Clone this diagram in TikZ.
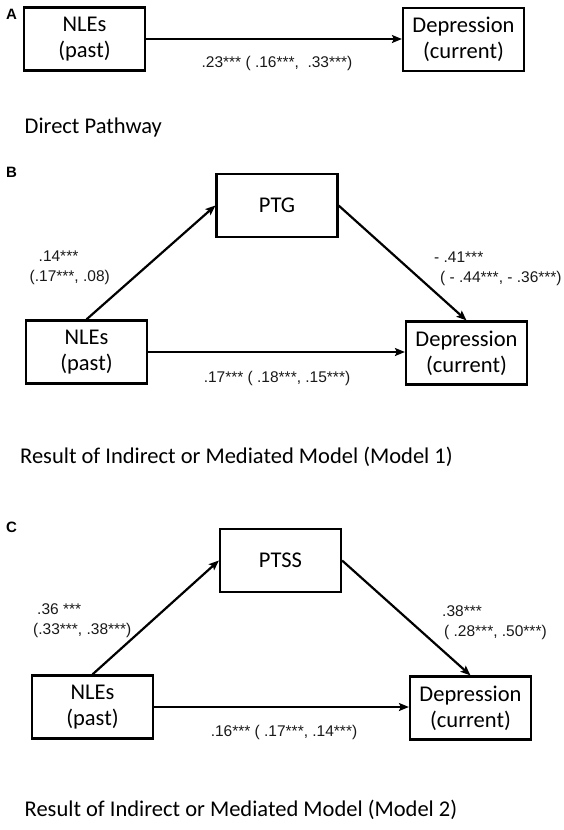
\documentclass[tikz,border=0pt]{standalone}
\usepackage{fontspec}
\setmainfont{Carlito}
\newfontfamily\lblfont{Liberation Sans}
\usetikzlibrary{arrows.meta}
\begin{document}
\begin{tikzpicture}[x=1pt,y=-1pt,
  box/.style={draw, line width=2.2pt, minimum width=121pt, minimum height=63pt, inner sep=0pt, align=center, font=\fontsize{22.5}{26}\selectfont},
  conn/.style={line width=2.2pt, -{Stealth[length=10pt,width=8pt,inset=2pt]}},
  coef/.style={font=\lblfont\fontsize{15.5}{20}\selectfont, text=black!90, inner sep=0pt},
  coefl/.style={coef, align=left, anchor=west},
  captext/.style={font=\fontsize{22.5}{27}\selectfont, anchor=west, inner sep=0pt},
  panel/.style={font=\lblfont\bfseries\fontsize{15}{17}\selectfont, inner sep=0pt}]
\useasboundingbox[fill=white] (0,0) rectangle (563,830);

% Panel A
\node[panel] (la) at (11.5,14) {A};
\node[box] (nA) at (84.5,39) {NLEs\\(past)};
\node[box] (dA) at (463.5,39.5) {Depression\\(current)};
\draw[conn] (nA.east) -- (nA.east -| dA.west);
\node[coef] (cA) at (277,63) {.23*** ( .16***, \ .33***)};
\node[captext] (capA) at (24.5,127) {Direct Pathway};

% Panel B
\node[panel] (lb) at (11.5,172) {B};
\node[box] (pB) at (277,205.5) {PTG};
\node[box] (nB) at (86.5,352) {NLEs\\(past)};
\node[box] (dB) at (466.5,353) {Depression\\(current)};
\draw[conn] (nB.north) -- (pB.west);
\draw[conn] (pB.east) -- (dB.north);
\draw[conn] (nB.east) -- (nB.east -| dB.west);
\node[coefl] (c1B) at (29.5,268) {\hspace*{9pt}.14***\\(.17***, .08)};
\node[coefl] (c2B) at (434,268.5) {- .41***\\\hspace*{6pt}( - .44***, - .36***)};
\node[coef] (c3B) at (277,378) {.17*** ( .18***, .15***)};
\node[captext] (capB) at (20,457) {Result of Indirect or Mediated Model (Model 1)};

% Panel C
\node[panel] (lc) at (11.5,527) {C};
\node[box] (pC) at (280.5,560.5) {PTSS};
\node[box] (nC) at (92.5,707) {NLEs\\(past)};
\node[box] (dC) at (470.5,708) {Depression\\(current)};
\draw[conn] (nC.north) -- (pC.west);
\draw[conn] (pC.east) -- (dC.north);
\draw[conn] (nC.east) -- (nC.east -| dC.west);
\node[coefl] (c1C) at (33,621) {\hspace*{4pt}.36 ***\\(.33***, .38***)};
\node[coefl] (c2C) at (442,623) {.38***\\\hspace*{2pt}( .28***, .50***)};
\node[coef] (c3C) at (284,732) {.16*** ( .17***, .14***)};
\node[captext] (capC) at (24.5,810) {Result of Indirect or Mediated Model (Model 2)};
\end{tikzpicture}
\end{document}
